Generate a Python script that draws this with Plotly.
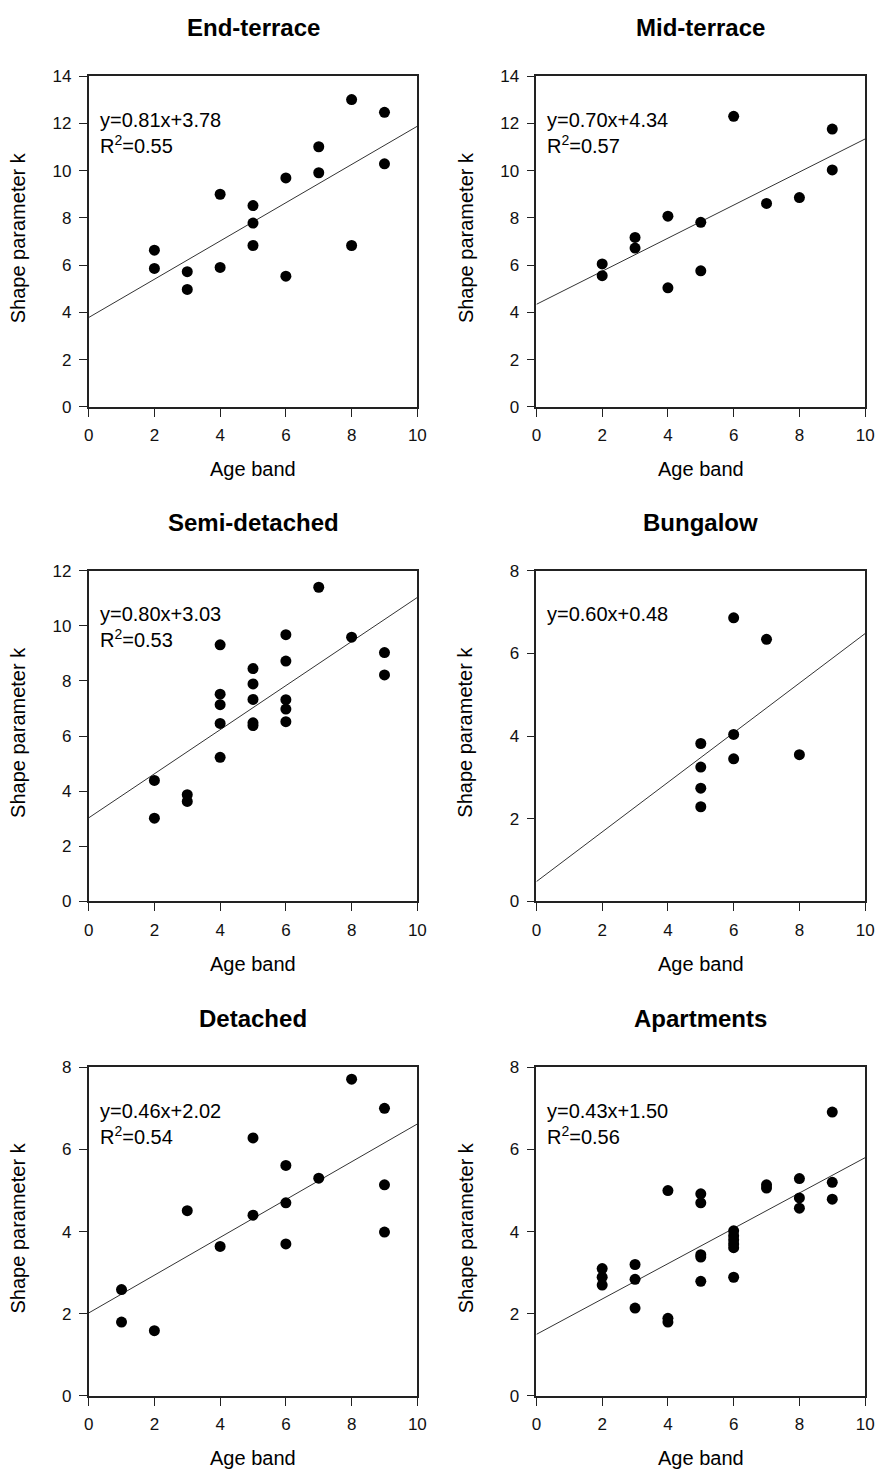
import plotly.graph_objects as go

W, H = 883, 1482

titles = ["End-terrace", "Mid-terrace", "Semi-detached", "Bungalow", "Detached", "Apartments"]

et_x = [2, 2, 3, 3, 4, 4, 5, 5, 5, 6, 6, 7, 7, 8, 8, 9, 9]
et_y = [6.63, 5.86, 5.72, 4.97, 9.0, 5.9, 8.52, 7.78, 6.83, 9.69, 5.53, 11.01, 9.91, 13.01, 6.83, 12.47, 10.29]

mt_x = [2, 2, 3, 3, 4, 4, 5, 5, 6, 7, 8, 9, 9]
mt_y = [6.05, 5.55, 7.17, 6.72, 8.07, 5.04, 7.81, 5.76, 12.3, 8.61, 8.86, 11.76, 10.03]

sd_x = [2, 2, 3, 3, 4, 4, 4, 4, 4, 5, 5, 5, 5, 5, 6, 6, 6, 6, 6, 7, 8, 9, 9]
sd_y = [4.39, 3.02, 3.87, 3.63, 9.31, 7.52, 7.14, 6.46, 5.23, 8.45, 7.89, 7.33, 6.48, 6.38,
        9.68, 8.72, 7.32, 6.98, 6.52, 11.4, 9.59, 9.03, 8.22]

bg_x = [5, 5, 5, 5, 6, 6, 6, 7, 8]
bg_y = [3.82, 3.25, 2.74, 2.29, 6.86, 4.04, 3.45, 6.34, 3.55]

de_x = [1, 1, 2, 3, 4, 5, 5, 6, 6, 6, 7, 8, 9, 9, 9]
de_y = [2.59, 1.8, 1.59, 4.51, 3.64, 6.28, 4.4, 5.61, 4.7, 3.7, 5.3, 7.71, 7.0, 5.14, 3.99]

ap_x = [2, 2, 2, 3, 3, 3, 4, 4, 4, 5, 5, 5, 5, 5, 6, 6, 6, 6, 6, 6, 7, 7, 8, 8, 8, 9, 9, 9]
ap_y = [3.1, 2.89, 2.7, 3.2, 2.84, 2.14, 5.0, 1.89, 1.8, 4.92, 4.70, 3.44, 3.38, 2.79,
        4.02, 3.9, 3.8, 3.7, 3.61, 2.89, 5.14, 5.06, 5.29, 4.82, 4.57, 6.91, 5.2, 4.79]

xs = [et_x, mt_x, sd_x, bg_x, de_x, ap_x]
ys = [et_y, mt_y, sd_y, bg_y, de_y, ap_y]

slopes = [0.81, 0.70, 0.80, 0.60, 0.46, 0.43]
intercepts = [3.78, 4.34, 3.03, 0.48, 2.02, 1.50]
r2 = ["0.55", "0.57", "0.53", None, "0.54", "0.56"]
ymax = [14, 14, 12, 8, 8, 8]
x_line = [0, 10]
x_ticks = [0, 2, 4, 6, 8, 10]

# panel pixel boxes (left, right, top, bottom)
cols = [(85, 419), (540, 874)]
rows = [(68, 403), (569, 904), (1072, 1405)]

fig = go.Figure()
FONT = "Liberation Sans, Arial, sans-serif"

for i in range(6):
    r, c = divmod(i, 2)
    L, R = cols[c]
    T, B = rows[r]
    xa = "x" if i == 0 else f"x{i+1}"
    ya = "y" if i == 0 else f"y{i+1}"
    xkey = "xaxis" if i == 0 else f"xaxis{i+1}"
    ykey = "yaxis" if i == 0 else f"yaxis{i+1}"
    fig.add_trace(go.Scatter(x=x_line, y=[intercepts[i] + slopes[i] * v for v in x_line],
                             mode="lines", line=dict(color="#333333", width=1),
                             xaxis=xa, yaxis=ya, showlegend=False, hoverinfo="skip"))
    fig.add_trace(go.Scatter(x=xs[i], y=ys[i], mode="markers",
                             marker=dict(color="black", size=11),
                             xaxis=xa, yaxis=ya, showlegend=False))
    common = dict(showgrid=False, zeroline=False, showline=True, mirror=True,
                  linecolor="#222222", linewidth=1.5, ticks="outside", ticklen=8,
                  tickcolor="#222222", tickwidth=1.2, ticklabelstandoff=4,
                  tickfont=dict(family=FONT, size=17, color="#111111"))
    fig.layout[xkey] = dict(domain=[L / W, R / W], range=[0, 10], tickvals=x_ticks,
                            anchor=ya, **common)
    fig.layout[ykey] = dict(domain=[1 - B / H, 1 - T / H], range=[0, ymax[i]], dtick=2,
                            anchor=xa, **common)
    cx = (L + R) / 2
    # title
    fig.add_annotation(x=cx / W, y=1 - (T - 49) / H, xref="paper", yref="paper",
                       text=f"<b>{titles[i]}</b>", showarrow=False,
                       font=dict(family=FONT, size=24, color="black"),
                       xanchor="center", yanchor="middle")
    # x axis title
    fig.add_annotation(x=cx / W, y=1 - (B + 63) / H, xref="paper", yref="paper",
                       text="Age band", showarrow=False,
                       font=dict(family=FONT, size=20, color="black"),
                       xanchor="center", yanchor="middle")
    # y axis title
    fig.add_annotation(x=(L - 72) / W, y=1 - ((T + B) / 2 - 4) / H, xref="paper", yref="paper",
                       text="Shape parameter k", showarrow=False, textangle=-90,
                       font=dict(family=FONT, size=20, color="black"),
                       xanchor="center", yanchor="middle")
    # equation
    eq = f"y={slopes[i]:.2f}x+{intercepts[i]:.2f}"
    if r2[i] is not None:
        eq += f"<br>R<sup>2</sup>={r2[i]}"
    fig.add_annotation(x=(L + 9) / W, y=1 - (T + 31) / H, xref="paper", yref="paper",
                       text=eq, showarrow=False, align="left",
                       font=dict(family=FONT, size=20, color="black"),
                       xanchor="left", yanchor="top")

fig.update_layout(width=W, height=H, margin=dict(l=0, r=0, t=0, b=0),
                  paper_bgcolor="white", plot_bgcolor="white",
                  font=dict(family=FONT, color="black"))
fig.write_html("out.html")
